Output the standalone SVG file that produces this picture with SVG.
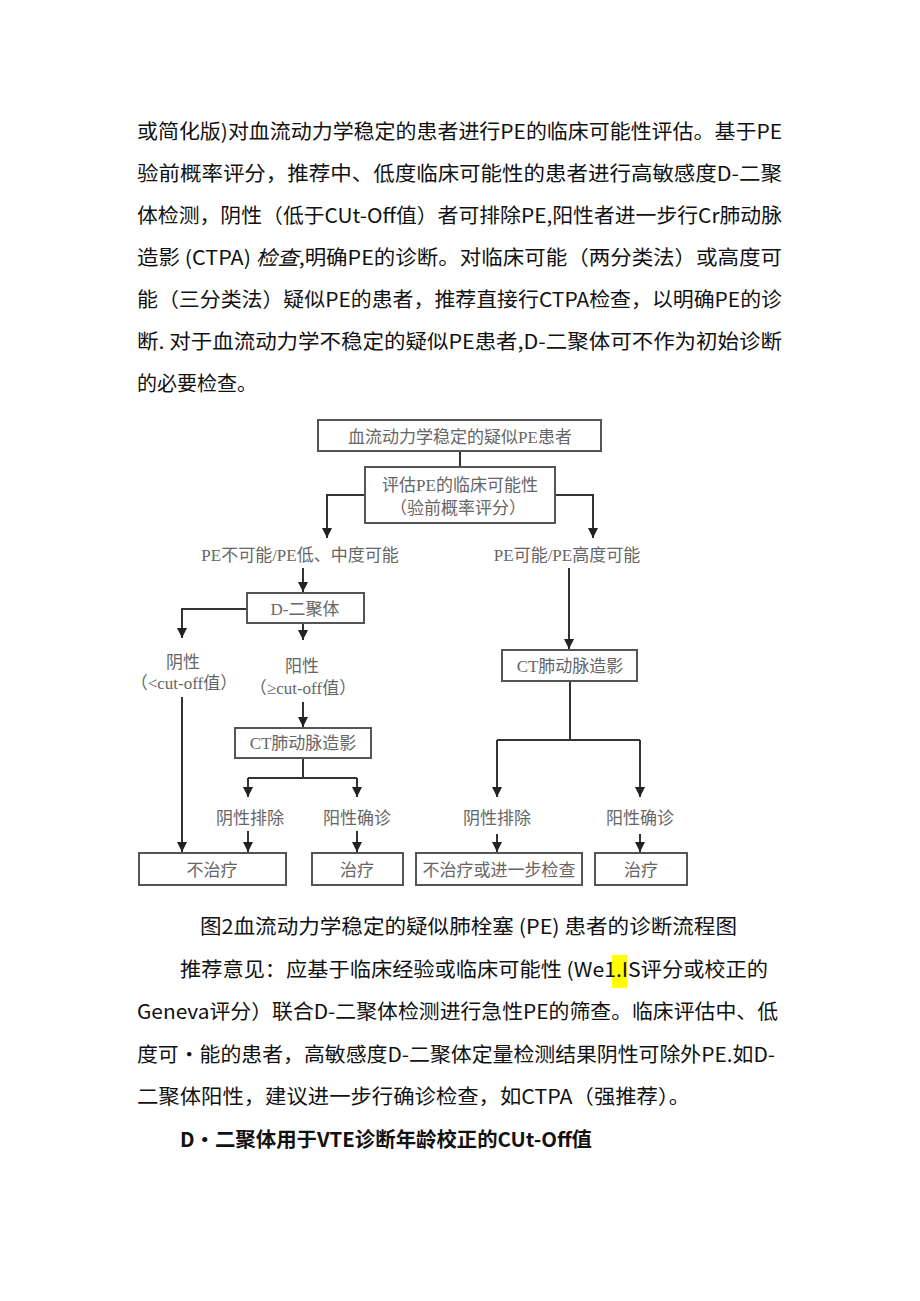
<svg xmlns="http://www.w3.org/2000/svg" width="920" height="1301" viewBox="0 0 920 1301">
<defs>
<style>
.body{font-family:"Noto Sans CJK SC","Noto Sans",sans-serif;font-size:20px;fill:#111;}
.bold{font-family:"Noto Sans CJK SC","Noto Sans",sans-serif;font-size:20px;font-weight:bold;fill:#111;}
.fc{font-family:"Liberation Serif","Noto Sans CJK SC",serif;font-size:17px;fill:#666;text-anchor:middle;}
.box{fill:#fff;stroke:#555;stroke-width:2;}
.con{fill:none;stroke:#333;stroke-width:2;}
</style>
<marker id="ah" viewBox="0 0 10 10" refX="10" refY="5" markerWidth="10" markerHeight="10" markerUnits="userSpaceOnUse" orient="auto">
<path d="M0,0 L10,5 L0,10 z" fill="#222"/>
</marker>
</defs>
<rect width="920" height="1301" fill="#fff"/>

<g id="paragraph1">
<text class="body" x="137" y="139" textLength="645" lengthAdjust="spacingAndGlyphs">或简化版)对血流动力学稳定的患者进行PE的临床可能性评估。基于PE</text>
<text class="body" x="137" y="181" textLength="645" lengthAdjust="spacingAndGlyphs">验前概率评分，推荐中、低度临床可能性的患者进行高敏感度D-二聚</text>
<text class="body" x="137" y="223" textLength="645" lengthAdjust="spacingAndGlyphs">体检测，阴性（低于CUt-Off值）者可排除PE,阳性者进一步行Cr肺动脉</text>
<text class="body" x="137" y="265" textLength="645" lengthAdjust="spacingAndGlyphs">造影 (CTPA) <tspan font-style="italic">检查</tspan>,明确PE的诊断。对临床可能（两分类法）或高度可</text>
<text class="body" x="137" y="307" textLength="645" lengthAdjust="spacingAndGlyphs">能（三分类法）疑似PE的患者，推荐直接行CTPA检查，以明确PE的诊</text>
<text class="body" x="137" y="349" textLength="645" lengthAdjust="spacingAndGlyphs">断. 对于血流动力学不稳定的疑似PE患者,D-二聚体可不作为初始诊断</text>
<text class="body" x="137" y="391">的必要检查。</text>
</g>

<g id="connectors">
<path class="con" d="M460,451 V467"/>
<path class="con" d="M365,495 H327 V538" marker-end="url(#ah)"/>
<path class="con" d="M555,495 H593 V538" marker-end="url(#ah)"/>
<path class="con" d="M303,568 V592" marker-end="url(#ah)"/>
<path class="con" d="M247,609 H182 V638" marker-end="url(#ah)"/>
<path class="con" d="M303,623 V640" marker-end="url(#ah)"/>
<path class="con" d="M569,568 V649" marker-end="url(#ah)"/>
<path class="con" d="M182,697 V852" marker-end="url(#ah)"/>
<path class="con" d="M303,702 V727" marker-end="url(#ah)"/>
<path class="con" d="M303,758 V778 M248,778 H357"/>
<path class="con" d="M248,778 V797" marker-end="url(#ah)"/>
<path class="con" d="M357,778 V797" marker-end="url(#ah)"/>
<path class="con" d="M248,831 V852" marker-end="url(#ah)"/>
<path class="con" d="M357,831 V852" marker-end="url(#ah)"/>
<path class="con" d="M570,681 V740 M497,740 H640"/>
<path class="con" d="M497,740 V797" marker-end="url(#ah)"/>
<path class="con" d="M640,740 V797" marker-end="url(#ah)"/>
<path class="con" d="M497,834 V852" marker-end="url(#ah)"/>
<path class="con" d="M640,834 V852" marker-end="url(#ah)"/>
</g>

<g id="n_start">
<rect class="box" x="318" y="420" width="283" height="31"/>
<text class="fc" x="460" y="443" font-size="18">血流动力学稳定的疑似PE患者</text>
</g>
<g id="n_assess">
<rect class="box" x="365" y="467" width="190" height="56" stroke-width="3" stroke="#444"/>
<text class="fc" x="460" y="491">评估PE的临床可能性</text>
<text class="fc" x="458" y="514">（验前概率评分）</text>
</g>
<g id="l_low">
<text class="fc" x="300" y="561">PE不可能/PE低、中度可能</text>
</g>
<g id="l_high">
<text class="fc" x="567" y="561">PE可能/PE高度可能</text>
</g>
<g id="n_ddimer">
<rect class="box" x="247" y="593" width="117" height="30"/>
<text class="fc" x="305" y="615">D-二聚体</text>
</g>
<g id="l_neg">
<text class="fc" x="183" y="668">阴性</text>
<text class="fc" x="184" y="689" font-size="15">（&lt;cut-off值）</text>
</g>
<g id="l_pos">
<text class="fc" x="302" y="672">阳性</text>
<text class="fc" x="303" y="694" font-size="15">（≥cut-off值）</text>
</g>
<g id="n_ct_left">
<rect class="box" x="235" y="728" width="136" height="30"/>
<text class="fc" x="303" y="749">CT肺动脉造影</text>
</g>
<g id="n_ct_right">
<rect class="box" x="502" y="650" width="135" height="31"/>
<text class="fc" x="570" y="672">CT肺动脉造影</text>
</g>
<g id="l_results">
<text class="fc" x="250" y="824">阴性排除</text>
<text class="fc" x="357" y="824">阳性确诊</text>
<text class="fc" x="497" y="824">阴性排除</text>
<text class="fc" x="640" y="824">阳性确诊</text>
</g>
<g id="n_notreat">
<rect class="box" x="139" y="853" width="147" height="32"/>
<text class="fc" x="212" y="876">不治疗</text>
</g>
<g id="n_treat1">
<rect class="box" x="312" y="853" width="91" height="32"/>
<text class="fc" x="357" y="876">治疗</text>
</g>
<g id="n_notreat2">
<rect class="box" x="416" y="853" width="166" height="32"/>
<text class="fc" x="499" y="876">不治疗或进一步检查</text>
</g>
<g id="n_treat2">
<rect class="box" x="595" y="853" width="92" height="32"/>
<text class="fc" x="641" y="876">治疗</text>
</g>

<g id="paragraph2">
<text class="body" x="200" y="934" textLength="537" lengthAdjust="spacingAndGlyphs">图2血流动力学稳定的疑似肺栓塞 (PE) 患者的诊断流程图</text>
<rect x="612" y="955" width="15" height="33" fill="#ffff00"/>
<text class="body" x="180" y="977" textLength="588" lengthAdjust="spacingAndGlyphs">推荐意见：应基于临床经验或临床可能性 (We1.IS评分或校正的</text>
<text class="body" x="137" y="1019" textLength="641" lengthAdjust="spacingAndGlyphs">Geneva评分）联合D-二聚体检测进行急性PE的筛查。临床评估中、低</text>
<text class="body" x="137" y="1062" textLength="638" lengthAdjust="spacingAndGlyphs">度可•能的患者，高敏感度D-二聚体定量检测结果阴性可除外PE.如D-</text>
<text class="body" x="137" y="1104" textLength="553" lengthAdjust="spacingAndGlyphs">二聚体阳性，建议进一步行确诊检查，如CTPA（强推荐）。</text>
<text class="bold" x="180" y="1147" textLength="412" lengthAdjust="spacingAndGlyphs">D•二聚体用于VTE诊断年龄校正的CUt-Off值</text>
</g>
</svg>
